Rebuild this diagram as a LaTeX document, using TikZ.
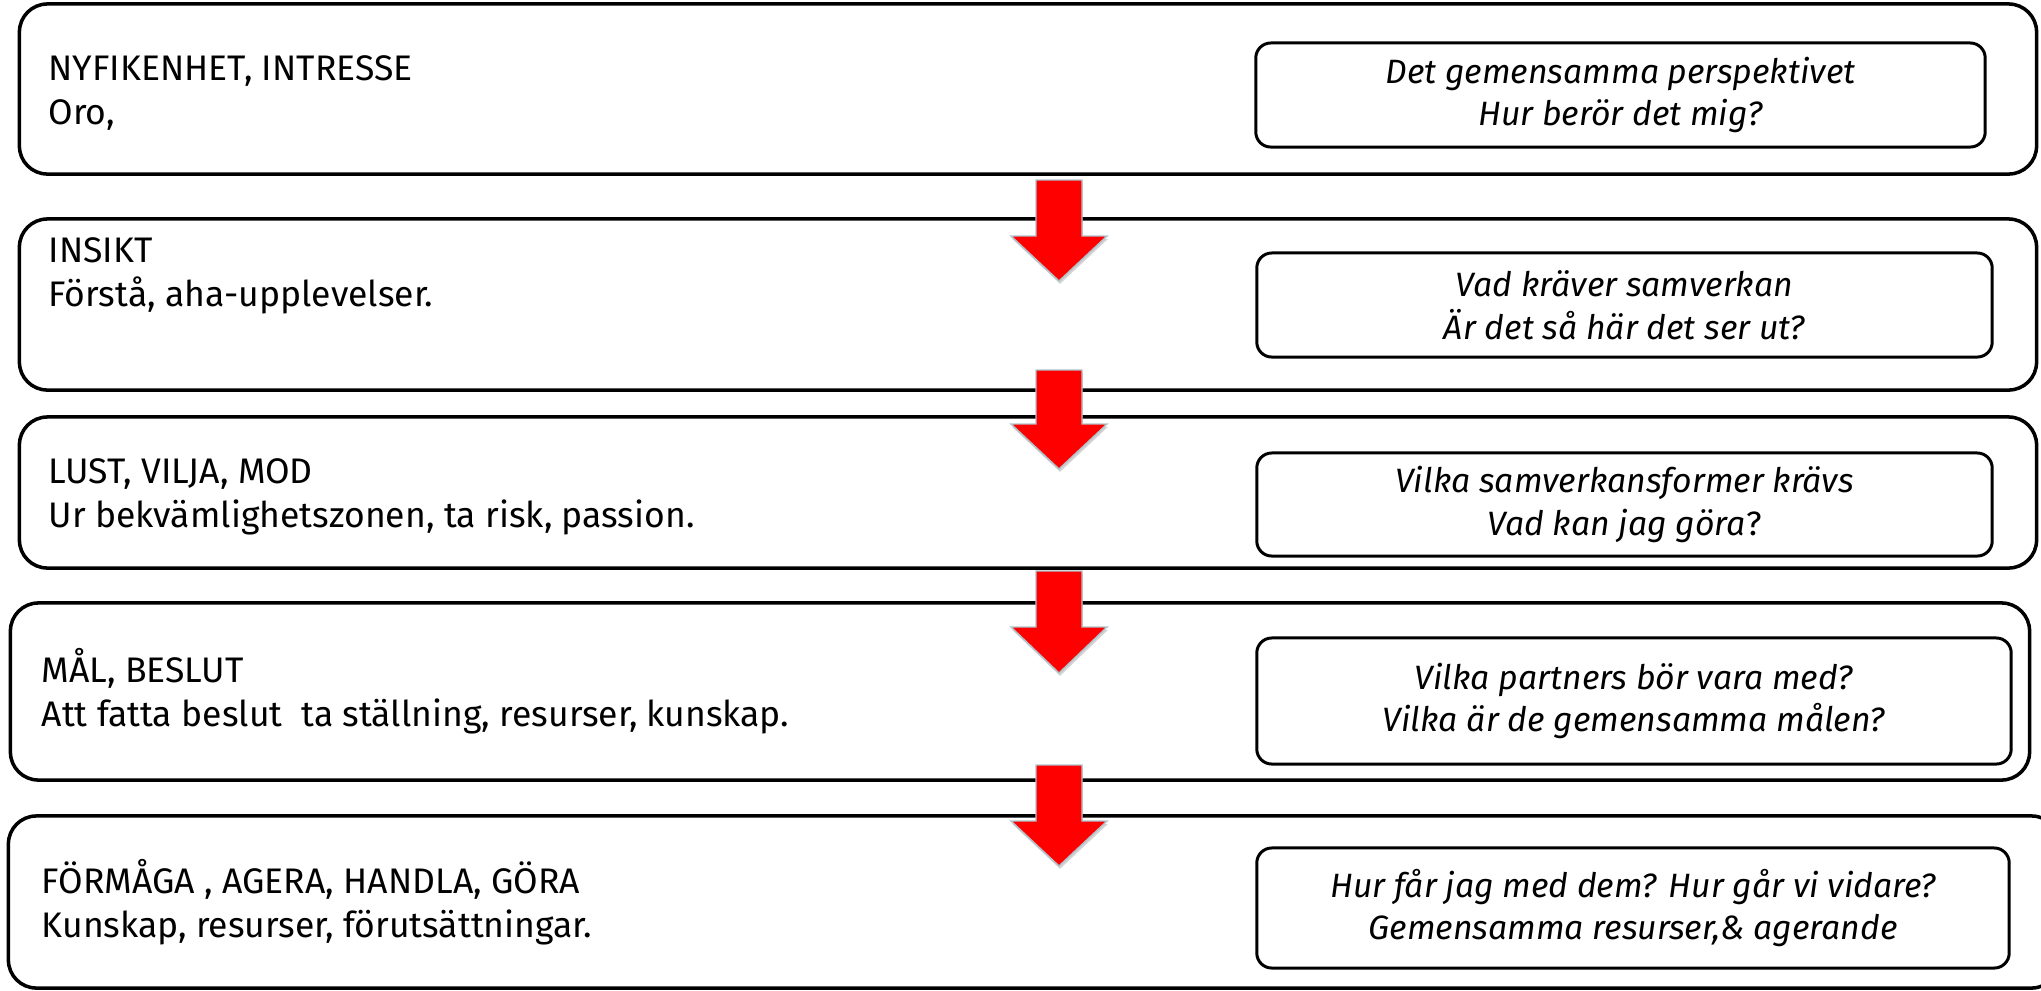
\documentclass[tikz,border=0pt]{standalone}
\usepackage{fontspec}
\setmainfont{Fira Sans}
\usepackage{tikz}
\usetikzlibrary{shadows}

\begin{document}
\begin{tikzpicture}[
    x=0.01cm, y=-0.01cm,
    outerbox/.style={
        draw,
        rounded corners=0.28cm,
        inner sep=0pt,
        line width=1.0pt
    },
    innerbox/.style={
        draw,
        rounded corners=0.15cm,
        align=center,
        inner sep=0pt,
        line width=0.85pt,
        font=\fontsize{9.6}{12.2}\selectfont\itshape
    },
    stagetext/.style={
        anchor=base west,
        align=left,
        inner sep=0pt,
        font=\fontsize{10.1}{12.5}\selectfont
    },
    blockarrow/.style={
        fill=red,
        draw=cyan!25!gray!60,
        line width=0.4pt,
        drop shadow={shadow xshift=0.3pt, shadow yshift=-0.8pt, opacity=0.35}
    }
]
\useasboundingbox (0,0) rectangle (2041,990);

% stages
\node[outerbox, minimum width=20.16cm, minimum height=1.70cm] (stage1) at (1028,89) {};
\node[outerbox, minimum width=20.16cm, minimum height=1.71cm] (stage2) at (1028,304.5) {};
\node[outerbox, minimum width=20.16cm, minimum height=1.51cm] (stage3) at (1028,492.5) {};
\node[outerbox, minimum width=20.18cm, minimum height=1.77cm] (stage4) at (1020,691.5) {};
\node[outerbox, minimum width=20.50cm, minimum height=1.72cm] (stage5) at (1034,902) {};

% base = last line
\node[stagetext] (label1) at (48,124) {NYFIKENHET, INTRESSE\\Oro,};
\node[stagetext] (label2) at (48,306) {INSIKT\\Förstå, aha-upplevelser.};
\node[stagetext] (label3) at (48,527) {LUST, VILJA, MOD\\Ur bekvämlighetszonen, ta risk, passion.};
\node[stagetext] (label4) at (41,726) {MÅL, BESLUT\\Att fatta beslut \ ta ställning, resurser, kunskap.};
\node[stagetext] (label5) at (41,937) {FÖRMÅGA , AGERA, HANDLA, GÖRA\\Kunskap, resurser, förutsättningar.};

% questions
\node[innerbox, minimum width=7.29cm, minimum height=1.04cm] (quest1) at (1620.5,95) {Det gemensamma perspektivet\\Hur berör det mig?};
\node[innerbox, minimum width=7.35cm, minimum height=1.04cm] (quest2) at (1624.5,305) {Vad kräver samverkan\\Är det så här det ser ut?};
\node[innerbox, minimum width=7.35cm, minimum height=1.03cm] (quest3) at (1624.5,504.5) {Vilka samverkansformer krävs\\Vad kan jag göra{\upshape ?}};
\node[innerbox, minimum width=7.54cm, minimum height=1.26cm] (quest4) at (1634,701) {Vilka partners bör vara med?\\Vilka är de gemensamma målen?};
\node[innerbox, minimum width=7.52cm, minimum height=1.20cm] (quest5) at (1633,908) {Hur får jag med dem? Hur går vi vidare?\\Gemensamma resurser,\& agerande};

% arrows between stages
\foreach \top/\base/\tip in {180/236/281, 370/424/469, 571/627/673, 765/821/866}
    \draw[blockarrow] (1036,\top) -- (1082,\top) -- (1082,\base) -- (1107,\base)
        -- (1059,\tip) -- (1011,\base) -- (1036,\base) -- cycle;
\end{tikzpicture}
\end{document}
